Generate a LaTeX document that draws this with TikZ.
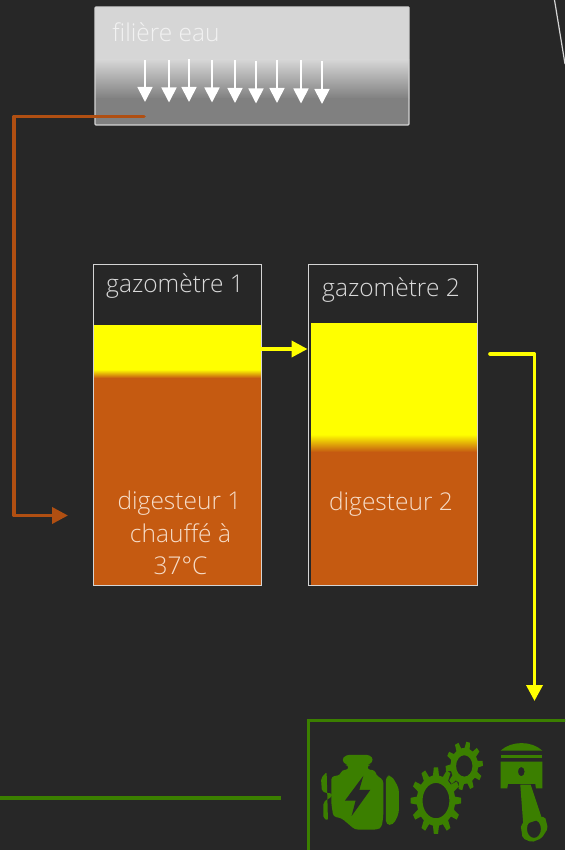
\documentclass[tikz,border=0pt]{standalone}
\usepackage{fontspec}
\setmainfont{Open Sans Light}
\usetikzlibrary{arrows.meta}
\definecolor{bg}{HTML}{272727}
\definecolor{rust}{HTML}{B04F12}
\definecolor{mud}{HTML}{C55A11}
\definecolor{grn}{HTML}{3B7F00}
\definecolor{edge}{HTML}{D4D4D4}
\definecolor{gas}{HTML}{FFFF00}
\definecolor{soft}{HTML}{DADADA}
\definecolor{warm}{HTML}{F6DCC8}
\tikzset{
  x=1pt,y=-1pt,
  lbl/.style={text=soft,font=\fontsize{24.5}{32}\selectfont,inner sep=0pt,anchor=base},
  warmlbl/.style={lbl,text=warm},
  tankbox/.style={draw=edge,line width=0.9pt,inner sep=0pt,minimum width=#1},
  rustline/.style={draw=rust,line width=3.6pt,line cap=round,line join=round},
  gasline/.style={draw=gas,line width=3.6pt,line cap=round,line join=round},
  bigtip/.style={-{Triangle[length=16pt,width=16pt]}},
  drop/.style={draw=white,line width=1.8pt,-{Triangle[length=15pt,width=15pt]}},
  icon/.style={fill=grn,draw=none,even odd rule},
}
\newcommand{\gear}[8]{% cx cy rx ry rootfactor teeth phase holefactor
  \pgfmathsetmacro{\gstep}{360/#6}
  \pgfmathtruncatemacro{\glast}{#6-1}
  \path[icon] ({#1+#3*#5*cos(#7-0.30*\gstep)},{#2+#4*#5*sin(#7-0.30*\gstep)})
  \foreach \k in {0,...,\glast} {
    -- ({#1+#3*#5*cos(#7+\k*\gstep-0.30*\gstep)},{#2+#4*#5*sin(#7+\k*\gstep-0.30*\gstep)})
    -- ({#1+#3*cos(#7+\k*\gstep-0.16*\gstep)},{#2+#4*sin(#7+\k*\gstep-0.16*\gstep)})
    -- ({#1+#3*cos(#7+\k*\gstep+0.16*\gstep)},{#2+#4*sin(#7+\k*\gstep+0.16*\gstep)})
    -- ({#1+#3*#5*cos(#7+\k*\gstep+0.30*\gstep)},{#2+#4*#5*sin(#7+\k*\gstep+0.30*\gstep)})
  } -- cycle
  (#1,#2) ellipse[x radius=#3*#8,y radius=#4*#8];
}
\begin{document}
\begin{tikzpicture}
\useasboundingbox (0,0) rectangle (565,850);
\clip (0,0) rectangle (565,850);
\fill[bg] (0,0) rectangle (565,850);

% corner line
\coordinate (cornerA) at (554.5,0);
\coordinate (cornerB) at (565,64);
\draw[draw=edge,line width=1.2pt] (cornerA) -- (cornerB);

% filiere eau
\fill[fill=edge!95!white] (95,7) rectangle (409,60);
\shade[top color=edge!95!white,bottom color=black!50!white] (95,59.5) rectangle (409,99);
\fill[fill=black!50!white] (95,98.5) rectangle (409,125);
\node[draw=edge,line width=1.4pt,rounded corners=1pt,minimum width=314pt,minimum height=118pt,inner sep=0pt] (filiere) at (252,66) {};
\node[lbl,text=white!90!gray] (filtxt) at (166,42) {filière eau};
\foreach \px/\pa/\pb [count=\n] in {145/60/102,169/60/102.5,189/59/102,212/60/102.5,235/60.5/103,256/61/103.5,277/60.5/103,301/60.5/103.5,322/61/104}{
  \coordinate (dropa\n) at (\px,\pa);
  \coordinate (dropb\n) at (\px,\pb);
  \draw[drop] (dropa\n) -- (dropb\n);
}

% tank 1
\fill[gas] (93,325) rectangle (261,370);
\shade[top color=gas,bottom color=mud] (93,369.5) rectangle (261,378);
\fill[mud] (93,377.5) rectangle (261,585);
\node[tankbox=168pt,minimum height=321pt] (tank1) at (177,424.5) {};
\node[lbl] (gaz1) at (175,292) {gazomètre 1};
\node[warmlbl] (dig1a) at (179.5,509) {digesteur 1};
\node[warmlbl] (dig1b) at (180.5,542) {chauffé à};
\node[warmlbl] (dig1c) at (180.5,574) {37°C};

% tank 2
\fill[gas] (311,323) rectangle (477,435);
\shade[top color=gas,bottom color=mud] (311,434.5) rectangle (477,452);
\fill[mud] (311,451.5) rectangle (477,585);
\node[tankbox=169pt,minimum height=321pt] (tank2) at (392.5,424.5) {};
\node[lbl] (gaz2) at (391,296) {gazomètre 2};
\node[warmlbl] (dig2) at (391,510) {digesteur 2};

% motor box
\node[draw=grn,line width=3pt,minimum width=300pt,minimum height=200pt,inner sep=0pt] (moteur) at (458,820) {};

% connectors
\coordinate (rustA) at (144,116.5);
\coordinate (rustB) at (14,116.5);
\coordinate (rustC) at (14,515.5);
\coordinate (rustD) at (68,515.5);
\draw[rustline,bigtip] (rustA) -- (rustB) -- (rustC) -- (rustD);
\coordinate (gasY) at (300,349);
\draw[draw=gas,line width=3.6pt,bigtip] (tank1.east |- gasY) -- (tank2.west |- gasY);
\coordinate (outA) at (490,354);
\coordinate (outB) at (534.5,354);
\coordinate (outC) at (534.5,701);
\draw[gasline,bigtip] (outA) -- (outB) -- (outC);
\coordinate (grnA) at (0,798);
\coordinate (grnB) at (281,798);
\draw[draw=grn,line width=3.6pt] (grnA) -- (grnB);

% icons, in zoomed coordinates
\begin{scope}[x=0.3333pt,y=-0.3333pt,shift={(900,2130)}]
 % engine
 \fill[icon,rounded corners=3pt]
  (138,135) -- (210,135) -- (221,150) -- (208,165) -- (203,165) -- (203,180) -- (225,180)
  -- (228,195) -- (250,210) -- (250,320) -- (245,352) -- (232,359) -- (165,359) -- (125,325)
  -- (100,320) -- (94,280) -- (94,200) -- (122,195) -- (125,180) -- (145,180) -- (145,165)
  -- (138,165) -- (125,150) -- cycle;
 \fill[bg] (190,198) -- (135,272) -- (167,272) -- (155,318) -- (211,240) -- (178,240) -- cycle;
 \fill[icon,rounded corners=4pt] (258,197) -- (275,197) -- (297,235) -- (297,310) -- (280,345) -- (258,345) -- cycle;
 \fill[icon,rounded corners=2pt] (80,186) -- (63,205) -- (66,245) -- (84,250) -- (96,250) -- (96,262) -- (84,266) -- (70,278) -- (70,325) -- (84,332) -- cycle;
 % gears
 \gear{408}{272}{76}{100}{0.76}{12}{-90}{0.53}
 \gear{493}{168}{56}{73}{0.74}{10}{-78}{0.44}
 % piston
 \fill[icon] (602,122) .. controls (635,92) and (695,92) .. (727,122) -- cycle;
 \fill[icon] (602,135) rectangle (727,145);
 \fill[icon] (602,155) -- (727,155) -- (727,235) -- (708,235) -- (706,222) -- (624,222) -- (622,235) -- (602,235) -- cycle
  (664,185) ellipse[x radius=10,y radius=14];
 \fill[icon] (661,224) -- (692,224) -- (726,326) -- (690,338) -- (670,345) -- cycle;
 \fill[icon,rounded corners=2pt] (662,345) -- (690,325) -- (735,320) -- (744,355) -- (725,385) -- (695,397) -- (668,385) -- cycle
  (702,357) ellipse[x radius=21,y radius=27];
\end{scope}
\end{tikzpicture}
\end{document}
